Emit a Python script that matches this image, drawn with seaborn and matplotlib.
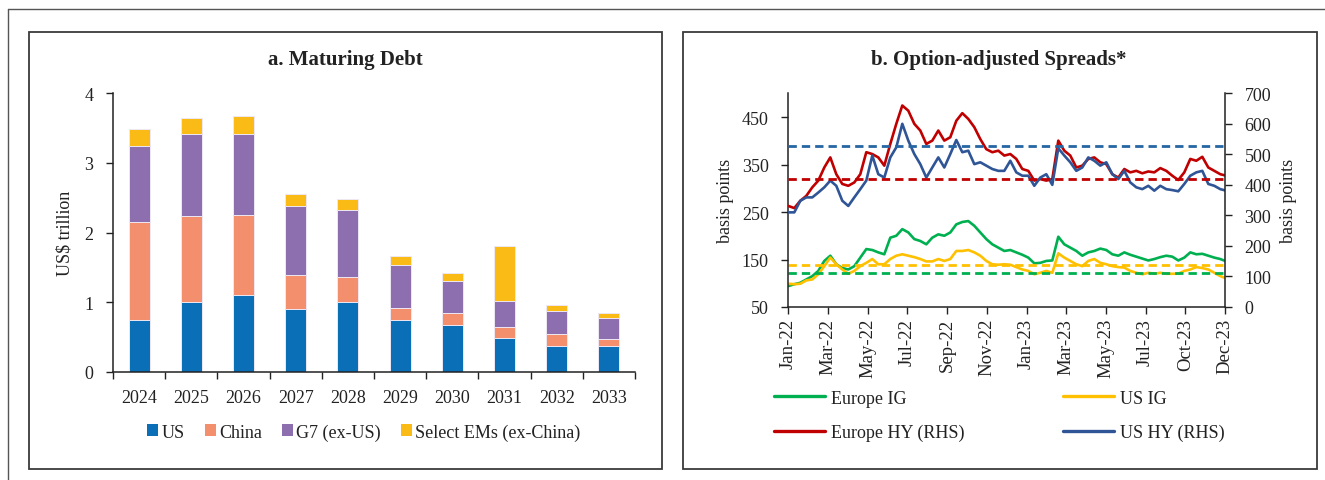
import numpy as np
import pandas as pd
import matplotlib
matplotlib.use("Agg")
import matplotlib.pyplot as plt
import matplotlib.dates as mdates
import seaborn as sns
from matplotlib.patches import Patch, Rectangle
from matplotlib.lines import Line2D

# ---------------- Data: panel a (US$ trillion) ----------------
years = ["2024", "2025", "2026", "2027", "2028", "2029", "2030", "2031", "2032", "2033"]
us = [0.74, 1.00, 1.11, 0.91, 1.01, 0.75, 0.67, 0.49, 0.38, 0.37]
china = [1.42, 1.24, 1.14, 0.48, 0.36, 0.17, 0.17, 0.16, 0.16, 0.11]
g7_ex_us = [1.09, 1.18, 1.16, 0.99, 0.96, 0.62, 0.47, 0.37, 0.33, 0.30]
select_ems = [0.24, 0.22, 0.26, 0.17, 0.15, 0.12, 0.11, 0.79, 0.09, 0.07]
bar_labels = ["US", "China", "G7 (ex-US)", "Select EMs (ex-China)"]

# ---------------- Data: panel b (basis points, every 10 days from 3 Jan 2022) ----------------
start_date = "2022-01-03"
step_days = 10
europe_ig = [94, 98, 101, 108, 115, 126, 147, 158, 140, 132,
             129, 136, 154, 172, 170, 165, 161, 196, 200, 214,
             207, 193, 189, 182, 196, 203, 200, 207, 224, 229,
             231, 221, 207, 193, 182, 175, 168, 170, 165, 160,
             154, 142, 143, 147, 148, 198, 182, 175, 168, 158,
             165, 168, 173, 170, 161, 158, 165, 160, 156, 152,
             148, 151, 155, 158, 156, 148, 154, 165, 161, 162,
             158, 154, 151, 146]
us_ig = [99, 98, 99, 106, 108, 119, 136, 154, 140, 129,
         120, 126, 136, 143, 151, 140, 140, 151, 158, 161,
         158, 155, 151, 146, 146, 151, 147, 151, 168, 168,
         170, 165, 158, 147, 140, 139, 140, 139, 134, 129,
         126, 119, 122, 126, 122, 163, 154, 147, 140, 136,
         147, 151, 143, 140, 136, 134, 133, 126, 122, 119,
         122, 120, 122, 120, 120, 120, 126, 129, 134, 132,
         129, 122, 115, 110]
europe_hy = [331, 324, 348, 364, 392, 414, 457, 490, 435, 403,
             397, 408, 435, 507, 501, 490, 463, 534, 600, 660,
             643, 600, 578, 534, 545, 578, 545, 556, 610, 635,
             616, 589, 550, 517, 507, 512, 496, 501, 485, 452,
             446, 414, 419, 414, 419, 545, 512, 496, 457, 463,
             485, 490, 474, 468, 435, 424, 452, 441, 446, 438,
             444, 441, 455, 446, 430, 416, 441, 485, 479, 492,
             457, 446, 435, 430]
us_hy = [310, 310, 348, 359, 359, 375, 392, 414, 397, 348,
         331, 359, 386, 414, 496, 435, 424, 490, 523, 600,
         545, 501, 468, 424, 457, 490, 457, 501, 547, 507,
         512, 468, 474, 463, 452, 446, 446, 479, 441, 430,
         430, 397, 424, 435, 400, 520, 496, 474, 446, 457,
         490, 479, 463, 474, 435, 419, 446, 408, 392, 386,
         397, 381, 397, 386, 383, 379, 403, 430, 441, 446,
         403, 397, 386, 381]
# historical averages (dashed lines)
europe_ig_avg = 122
us_ig_avg = 138
europe_hy_avg = 418
us_hy_avg = 528
date_labels = ["Jan-22", "Mar-22", "May-22", "Jul-22", "Sep-22", "Nov-22",
               "Jan-23", "Mar-23", "May-23", "Jul-23", "Oct-23", "Dec-23"]

# ---------------- Style ----------------
sns.set_theme(style="ticks")
plt.rcParams["font.family"] = ["Liberation Serif", "DejaVu Serif"]
plt.rcParams["font.size"] = 13
plt.rcParams["axes.edgecolor"] = "#222222"
plt.rcParams["xtick.color"] = "#222222"
plt.rcParams["ytick.color"] = "#222222"
plt.rcParams["text.color"] = "#222222"
plt.rcParams["axes.labelcolor"] = "#222222"

W, H = 1325, 481
fig = plt.figure(figsize=(W / 100, H / 100), dpi=100)
fig.patch.set_facecolor("white")


def fx(x):
    return x / W


def fy(y):
    return 1 - y / H


# outer frame fragments
fig.add_artist(Line2D([fx(8), 1.0], [fy(10), fy(10)], transform=fig.transFigure, color="#555555", lw=1.0))
fig.add_artist(Line2D([fx(8), fx(8)], [fy(10), 0.0], transform=fig.transFigure, color="#555555", lw=1.0))
# panel boxes
fig.add_artist(Rectangle((fx(29), fy(470)), (662 - 29) / W, (470 - 32.7) / H, transform=fig.transFigure,
                         fill=False, edgecolor="#3a3a3a", lw=1.3))
fig.add_artist(Rectangle((fx(682.5), fy(470)), (1317 - 682.5) / W, (470 - 32.7) / H, transform=fig.transFigure,
                         fill=False, edgecolor="#3a3a3a", lw=1.3))

# ---------------- Panel a ----------------
axL = fig.add_axes([fx(113), fy(373), (635 - 113) / W, (373 - 94.3) / H])
colors_a = ["#0B6FB8", "#F48F6E", "#8D6FB0", "#FBBB16"]
layers = [us, china, g7_ex_us, select_ems]
cums = np.cumsum(np.array(layers), axis=0)
for i in range(3, -1, -1):
    sns.barplot(x=years, y=cums[i], color=colors_a[i], saturation=1, width=0.4,
                errorbar=None, ax=axL, edgecolor="#EEE8F4", linewidth=0.7)
axL.set_xlim(-0.5, 9.5)
axL.set_ylim(0, 4)
axL.set_yticks([0, 1, 2, 3, 4])
axL.set_xticks(range(10))
axL.set_xticklabels(years)
axL.set_xticks(np.arange(-0.5, 10, 1), minor=True)
axL.tick_params(axis="x", which="major", length=0, pad=12, labelsize=13)
axL.tick_params(axis="x", which="minor", length=5, width=1)
axL.tick_params(axis="y", length=5, width=1, pad=9, labelsize=13)
axL.set_ylabel("US$ trillion", fontsize=13, labelpad=8)
axL.set_xlabel("")
sns.despine(ax=axL)
for s in ["left", "bottom"]:
    axL.spines[s].set_linewidth(1.1)

handles_a = [Patch(facecolor=c, edgecolor="none") for c in colors_a]
fig.legend(handles_a, bar_labels, loc="center", bbox_to_anchor=(fx(364), fy(433)), ncol=4,
           frameon=False, handlelength=0.6, handleheight=0.65, handletextpad=0.2,
           columnspacing=1.1, fontsize=13, borderpad=0, borderaxespad=0)
fig.text(fx(345), fy(60), "a. Maturing Debt", ha="center", va="center", fontsize=15, fontweight="bold")

# ---------------- Panel b ----------------
dates = pd.date_range(start_date, periods=len(europe_ig), freq=f"{step_days}D")
axR = fig.add_axes([fx(788.3), fy(308), 436.7 / W, (308 - 94.3) / H])
axR2 = axR.twinx()

col_eig, col_uig, col_ehy, col_uhy = "#00B050", "#FFC000", "#C00000", "#2F5597"
lw_line = 1.9
sns.lineplot(x=dates, y=europe_ig, ax=axR, color=col_eig, lw=lw_line)
sns.lineplot(x=dates, y=us_ig, ax=axR, color=col_uig, lw=lw_line)
axR.axhline(us_ig_avg, color=col_uig, lw=2, ls=(0, (3, 1.8)))
axR.axhline(europe_ig_avg, color=col_eig, lw=2, ls=(0, (3, 1.8)))
sns.lineplot(x=dates, y=europe_hy, ax=axR2, color=col_ehy, lw=lw_line)
sns.lineplot(x=dates, y=us_hy, ax=axR2, color=col_uhy, lw=lw_line)
axR2.axhline(europe_hy_avg, color=col_ehy, lw=2, ls=(0, (3, 1.8)))
axR2.axhline(us_hy_avg, color="#2666A3", lw=2, ls=(0, (3, 1.8)))

x0 = pd.Timestamp(start_date)
span_days = 436.7 / 6 * step_days
xlim = [mdates.date2num(x0), mdates.date2num(x0 + pd.Timedelta(days=span_days))]
axR.set_xlim(xlim)
tick_pos = np.linspace(xlim[0], xlim[1], len(date_labels))
axR.set_xticks(tick_pos)
axR.set_xticklabels(date_labels, rotation=90)
axR.set_ylim(50, 500)
axR.set_yticks([50, 150, 250, 350, 450])
axR2.set_ylim(0, 700)
axR2.set_yticks(range(0, 701, 100))
axR.tick_params(axis="x", length=5, width=1, pad=3, labelsize=13.5)
axR.tick_params(axis="y", length=5, width=1, pad=9, labelsize=13)
axR2.tick_params(axis="y", length=5, width=1, pad=9, labelsize=13)
axR.set_ylabel("basis points", fontsize=13, labelpad=6)
axR2.set_ylabel("basis points", fontsize=13, labelpad=6)
axR.set_xlabel("")
for a in (axR, axR2):
    a.spines["top"].set_visible(False)
    for s in ["left", "right", "bottom"]:
        a.spines[s].set_linewidth(1.1)
axR.spines["right"].set_visible(False)
axR2.spines["left"].set_visible(False)
axR2.spines["bottom"].set_visible(False)
axR.grid(False)
axR2.grid(False)

fig.text(fx(999), fy(60), "b. Option-adjusted Spreads*", ha="center", va="center", fontsize=15, fontweight="bold")

leg1 = fig.legend([Line2D([], [], color=col_eig, lw=2.4), Line2D([], [], color=col_ehy, lw=2.4)],
                  ["Europe IG", "Europe HY (RHS)"], loc="center left",
                  bbox_to_anchor=(fx(774), fy(416.5)), frameon=False, handlelength=2.8,
                  handletextpad=0.35, labelspacing=0.95, fontsize=13, borderpad=0, borderaxespad=0)
leg2 = fig.legend([Line2D([], [], color=col_uig, lw=2.4), Line2D([], [], color=col_uhy, lw=2.4)],
                  ["US IG", "US HY (RHS)"], loc="center left",
                  bbox_to_anchor=(fx(1063), fy(416.5)), frameon=False, handlelength=2.8,
                  handletextpad=0.35, labelspacing=0.95, fontsize=13, borderpad=0, borderaxespad=0)

fig.savefig("out.png", dpi=100, facecolor="white")
